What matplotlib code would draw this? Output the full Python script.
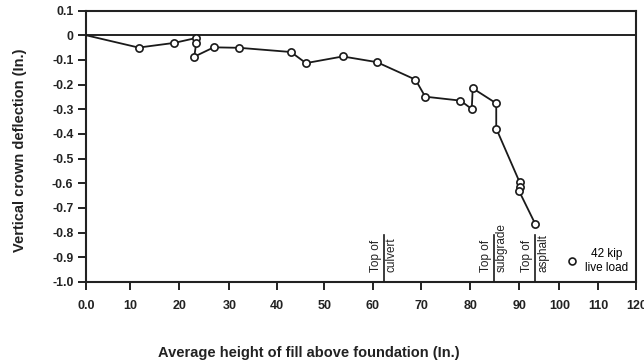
import numpy as np
import matplotlib
matplotlib.use("Agg")
import matplotlib.pyplot as plt
from matplotlib.lines import Line2D

plt.rcParams["font.family"] = ["Liberation Sans", "DejaVu Sans"]

# ---------- DATA ----------
fill_height = [0, 11.7, 19.0, 23.4, 23.4, 23.0, 26.9, 32.1, 42.9, 46.1, 53.8, 60.8,
               68.8, 70.8, 78.0, 80.3, 80.5, 85.3, 85.3, 90.1, 90.1, 90.0, 94.0]
deflection = [0, -0.050, -0.031, -0.011, -0.030, -0.087, -0.049, -0.051, -0.068,
              -0.113, -0.086, -0.109, -0.180, -0.249, -0.265, -0.299, -0.215,
              -0.276, -0.378, -0.596, -0.615, -0.633, -0.765]

x_ticks = [0, 10, 20, 30, 40, 50, 60, 70, 80, 90, 100, 110, 120]
x_tick_labels = ["0.0", "10", "20", "30", "40", "50", "60", "70", "80", "90", "100", "110", "120"]
y_ticks = [0.1, 0, -0.1, -0.2, -0.3, -0.4, -0.5, -0.6, -0.7, -0.8, -0.9, -1.0]
y_tick_labels = ["0.1", "0", "-0.1", "-0.2", "-0.3", "-0.4", "-0.5", "-0.6",
                 "-0.7", "-0.8", "-0.9", "-1.0"]

stage_x = [62.2, 84.8, 94.0]
stage_first = ["Top of", "Top of", "Top of"]
stage_second = ["culvert", "subgrade", "asphalt"]

# the scanned axis is not evenly spaced; relative tick spacing from the original
tick_spacing = [0, 44.3, 93.3, 143.3, 191.3, 238.3, 287.0, 335.3, 384.3, 433.3,
                473.3, 512.0, 550.3]


def fwd(v):
    return np.interp(v, x_ticks, tick_spacing)


def inv(p):
    return np.interp(p, tick_spacing, x_ticks)


fig = plt.figure(figsize=(6.44, 3.64), dpi=100)
ax = fig.add_axes([0.1335, 0.2253, 0.8545, 0.7457])
ax.set_xscale("function", functions=(fwd, inv))
ax.set_xlim(0, 120)
ax.set_ylim(-1.0, 0.1)

ax.axhline(0, color="#222222", lw=1.4, zorder=2)

ax.plot(fill_height, deflection, color="#1a1a1a", lw=1.3, zorder=3)
ax.plot(fill_height[1:], deflection[1:], ls="none", marker="o", ms=5.2,
        mfc="white", mec="#1a1a1a", mew=1.2, zorder=4)

for xv, t1, t2 in zip(stage_x, stage_first, stage_second):
    ax.plot([xv, xv], [-1.0, -0.81], color="#1a1a1a", lw=1.2, zorder=3)
    ax.annotate(t1, (xv, -0.958), xytext=(-1.5, 0), textcoords="offset points",
                rotation=90, ha="right", va="bottom", fontsize=8.5, color="#222222")
    ax.annotate(t2, (xv, -0.958), xytext=(1.5, 0), textcoords="offset points",
                rotation=90, ha="left", va="bottom", fontsize=8.5, color="#222222")

ax.set_xticks(x_ticks, x_tick_labels, fontsize=9, fontweight="bold", color="#222222")
ax.set_yticks(y_ticks, y_tick_labels, fontsize=8.8, fontweight="bold", color="#222222")
ax.tick_params(axis="x", direction="out", length=6, width=1.4, pad=7, color="#222222")
ax.tick_params(axis="y", direction="out", length=6, width=1.4, pad=3, color="#222222")
for s in ax.spines.values():
    s.set_linewidth(1.5)
    s.set_color("#222222")

ax.set_xlabel("Average height of fill above foundation (In.)", fontsize=10.5,
              fontweight="bold", color="#222222")
ax.xaxis.set_label_coords(0.405, -0.235)
ax.set_ylabel("Vertical crown deflection (In.)", fontsize=10.5,
              fontweight="bold", color="#222222")
ax.yaxis.set_label_coords(-0.107, 0.487)

handle = Line2D([], [], ls="none", marker="o", ms=5, mfc="white", mec="#1a1a1a", mew=1.2)
leg = ax.legend([handle], ["42 kip\nlive load"], loc="lower right", frameon=False,
                fontsize=8.5, handletextpad=0.6, borderaxespad=0.3, handlelength=1.0)
for t in leg.get_texts():
    t.set_multialignment("center")

fig.savefig("out.png", dpi=100)
